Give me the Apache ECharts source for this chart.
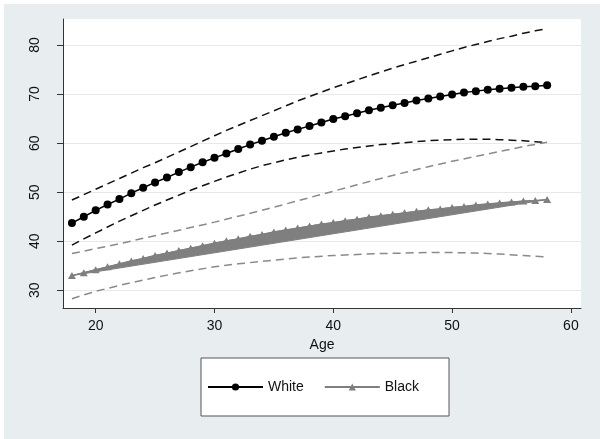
<!DOCTYPE html>
<html><head><meta charset="utf-8">
<script src="https://cdn.jsdelivr.net/npm/echarts@6/dist/echarts.min.js"></script>
<style>
html,body{margin:0;padding:0;background:#fff}
#c{width:600px;height:439px;background:linear-gradient(#e8eef0,#e8eef0) no-repeat 4px 4px / 596px 435px, #fff;}
</style></head><body><div id="c"></div>
<script>
const ages = [18,19,20,21,22,23,24,25,26,27,28,29,30,31,32,33,34,35,36,37,38,39,40,41,42,43,44,45,46,47,48,49,50,51,52,53,54,55,56,57,58];
const white = [43.7,45.0,46.3,47.5,48.6,49.8,50.9,52.0,53.0,54.1,55.1,56.1,57.0,57.9,58.8,59.7,60.5,61.3,62.1,62.8,63.5,64.2,64.9,65.5,66.1,66.7,67.2,67.7,68.2,68.7,69.1,69.5,69.9,70.3,70.6,70.9,71.1,71.3,71.5,71.6,71.8];
const whiteUpper = [48.4,49.5,50.6,51.7,52.8,53.9,55.0,56.0,57.1,58.2,59.3,60.4,61.5,62.6,63.6,64.6,65.6,66.6,67.6,68.6,69.5,70.4,71.3,72.1,72.9,73.7,74.5,75.3,76.0,76.7,77.4,78.1,78.8,79.5,80.1,80.7,81.3,81.8,82.4,82.9,83.3];
const whiteLower = [39.2,40.5,41.7,42.9,44.1,45.2,46.3,47.4,48.4,49.4,50.4,51.3,52.2,53.1,53.9,54.7,55.4,56.0,56.6,57.1,57.6,58.0,58.4,58.8,59.1,59.4,59.7,59.9,60.1,60.3,60.5,60.6,60.7,60.8,60.8,60.8,60.7,60.6,60.5,60.3,60.1];
const black = [33.0,33.6,34.2,34.8,35.4,36.0,36.5,37.1,37.6,38.1,38.6,39.1,39.6,40.1,40.5,41.0,41.4,41.9,42.3,42.7,43.1,43.5,43.8,44.2,44.5,44.9,45.2,45.5,45.8,46.1,46.4,46.6,46.9,47.1,47.4,47.6,47.8,48.0,48.2,48.3,48.5];
const ciAges = [18,20,22,24,26,28,30,32,34,36,38,40,42,44,46,48,50,52,54,56,58];
const blackUpper = [37.5,38.5,39.5,40.6,41.7,42.8,43.9,45.1,46.3,47.6,48.9,50.2,51.5,52.8,54.0,55.2,56.3,57.3,58.3,59.3,60.2];
const blackLower = [28.3,29.8,31.0,32.1,33.1,34.0,34.8,35.4,35.9,36.4,36.8,37.1,37.3,37.5,37.6,37.7,37.7,37.6,37.4,37.1,36.8];
const bandAges = [18,58];
const bandLower = [33.0,48.5];
const xTicks = [20,30,40,50,60];
const yTicks = [30,40,50,60,70,80];

const pair = (xs, ys) => xs.map((x, i) => [x, ys[i]]);
const FONT = '"Liberation Sans", Arial, sans-serif';
const chart = echarts.init(document.getElementById('c'), null, {renderer: 'canvas'});
const dashBlack = {color: '#111', width: 1.5, type: [8, 5]};
const dashGray = {color: '#8a8a8a', width: 1.5, type: [8, 5]};
chart.setOption({
  animation: false,
  textStyle: {fontFamily: FONT},
  grid: {left: 63, top: 19, right: 19, bottom: 131, show: true, backgroundColor: '#fff', borderWidth: 0},
  legend: {
    data: ['White', 'Black'], left: 201, top: 358,
    backgroundColor: '#fff', borderColor: '#555', borderWidth: 1,
    padding: [22, 30, 22, 6], itemWidth: 55, itemHeight: 9, itemGap: 20,
    textStyle: {fontSize: 14, color: '#111', fontFamily: FONT}
  },
  xAxis: {
    type: 'value', min: 17.25, max: 60.85,
    name: 'Age', nameLocation: 'middle', nameGap: 29,
    nameTextStyle: {fontSize: 14, color: '#111', fontFamily: FONT},
    axisLine: {show: true, lineStyle: {color: '#333', width: 1}},
    axisTick: {show: true, length: 5, customValues: xTicks, lineStyle: {color: '#333'}},
    axisLabel: {customValues: xTicks, fontSize: 14, color: '#111', margin: 11, fontFamily: FONT},
    splitLine: {show: false}
  },
  yAxis: {
    type: 'value', min: 26.4, max: 85.3,
    axisLine: {show: true, lineStyle: {color: '#333', width: 1}},
    axisTick: {show: true, length: 6, customValues: yTicks, lineStyle: {color: '#333'}},
    axisLabel: {customValues: yTicks, rotate: 90, fontSize: 14, color: '#111', margin: 21, fontFamily: FONT},
    splitLine: {show: true, lineStyle: {color: '#e8e8e8', width: 1}}
  },
  series: [
    {name: 'wU', type: 'line', data: pair(ages, whiteUpper), symbol: 'none', lineStyle: dashBlack, z: 2},
    {name: 'wL', type: 'line', data: pair(ages, whiteLower), symbol: 'none', lineStyle: dashBlack, z: 2},
    {name: 'bU', type: 'line', data: pair(ciAges, blackUpper), symbol: 'none', lineStyle: dashGray, z: 2},
    {name: 'bL', type: 'line', data: pair(ciAges, blackLower), symbol: 'none', lineStyle: dashGray, z: 2},
    {name: 'band', type: 'custom', silent: true, z: 3, data: [[bandAges[0], bandLower[0]]],
      renderItem: function (params, api) {
        const pts = ages.map((a, i) => api.coord([a, black[i]]));
        for (let j = bandAges.length - 1; j >= 0; j--) pts.push(api.coord([bandAges[j], bandLower[j]]));
        return {type: 'polygon', shape: {points: pts}, style: {fill: '#7f7f7f', stroke: '#7f7f7f', lineWidth: 1}};
      }
    },
    {name: 'Black', type: 'line', data: pair(ages, black), symbol: 'triangle', symbolSize: [8, 7],
      itemStyle: {color: '#7f7f7f'}, lineStyle: {color: '#7f7f7f', width: 1.3}, z: 4},
    {name: 'White', type: 'line', data: pair(ages, white), symbol: 'circle', symbolSize: 8,
      itemStyle: {color: '#000'}, lineStyle: {color: '#000', width: 1.5}, z: 5}
  ]
});
</script></body></html>
